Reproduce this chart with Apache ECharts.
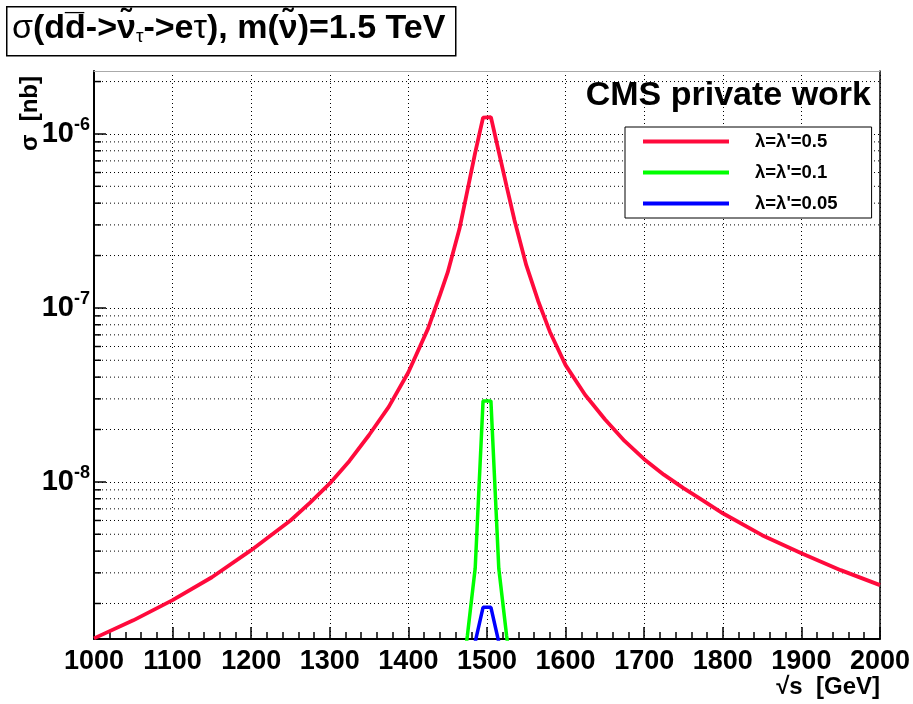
<!DOCTYPE html>
<html><head><meta charset="utf-8">
<script src="https://cdn.jsdelivr.net/npm/echarts@6/dist/echarts.min.js"></script>
<style>html,body{margin:0;padding:0;background:#fff}#c{width:913px;height:704px}</style>
</head><body><div id="c"></div>
<script>
// ---- data ----
const seriesNames = ["λ=λ'=0.5", "λ=λ'=0.1", "λ=λ'=0.05"];
const redX = [1000,1050,1100,1150,1200,1250,1275,1300,1325,1350,1375,1400,1425,1440,1450,1465,1475,1485,1495,
              1505,1515,1525,1535,1550,1565,1580,1600,1625,1650,1675,1700,1725,1750,1775,1800,1850,1900,1950,2000];
const redY = [1.26e-9,1.60e-9,2.09e-9,2.83e-9,4.05e-9,6.0e-9,7.6e-9,9.8e-9,1.32e-8,1.86e-8,2.7e-8,4.27e-8,7.6e-8,1.18e-7,1.6e-7,2.85e-7,4.7e-7,7.8e-7,1.24e-6,
              1.25e-6,7.9e-7,5.0e-7,3.19e-7,1.76e-7,1.1e-7,7.3e-8,4.69e-8,3.16e-8,2.29e-8,1.72e-8,1.35e-8,1.1e-8,9.2e-9,7.8e-9,6.6e-9,4.94e-9,3.89e-9,3.11e-9,2.55e-9];
const greenX = [1465,1475,1485,1495,1505,1515,1525,1535];
const greenY = [6e-10,1.3e-9,3.19e-9,2.92e-8,2.92e-8,3.19e-9,1.3e-9,6e-10];
const blueX = [1475,1485,1495,1505,1515,1525];
const blueY = [5e-10,1.2e-9,1.9e-9,1.9e-9,1.2e-9,5e-10];
const xMin = 1000, xMax = 2000, xStep = 100;
const yMin = 1.25e-9, yMax = 2.3e-6;
const yMinorTicks = [2e-9,3e-9,4e-9,5e-9,6e-9,7e-9,8e-9,9e-9,
  2e-8,3e-8,4e-8,5e-8,6e-8,7e-8,8e-8,9e-8,
  2e-7,3e-7,4e-7,5e-7,6e-7,7e-7,8e-7,9e-7,2e-6];
const colors = ['#ff0a3c', '#00ff00', '#0000ff'];

const FONT = '"Liberation Sans", Arial, Helvetica, sans-serif';
const zip = (xs, ys) => xs.map((x, i) => [x, ys[i]]);

const chart = echarts.init(document.getElementById('c'), null, {renderer: 'canvas'});
const dotted = {type: [1, 3], color: '#000', width: 1};

const option = {
  animation: false,
  backgroundColor: '#fff',
  grid: {left: 94, right: 32, top: 71, bottom: 65, show: false},
  xAxis: [{
    type: 'value', min: xMin, max: xMax, interval: xStep,
    axisLine: {show: true, lineStyle: {color: '#000', width: 2}},
    axisTick: {show: true, inside: true, length: 12, lineStyle: {color: '#000', width: 1.5}},
    minorTick: {show: true, splitNumber: 5, length: 7, lineStyle: {color: '#000', width: 1.5}},
    axisLabel: {color: '#000', fontFamily: FONT, fontWeight: 'bold', fontSize: 27, margin: 9,
      formatter: v => String(v)},
    splitLine: {show: true, lineStyle: dotted}
  }, {
    type: 'value', min: xMin, max: xMax, position: 'top',
    axisLine: {show: true, lineStyle: {color: '#aaa', width: 1}},
    axisTick: {show: false}, axisLabel: {show: false}, splitLine: {show: false}
  }],
  yAxis: [{
    type: 'log', logBase: 10, min: yMin, max: yMax,
    axisLine: {show: true, lineStyle: {color: '#000', width: 2}},
    axisTick: {show: true, inside: true, length: 12, lineStyle: {color: '#000', width: 1.5}},
    axisLabel: {
      showMinLabel: false, showMaxLabel: false, margin: 4,
      formatter: function (v) {
        const l = Math.log10(v), e = Math.round(l);
        if (Math.abs(l - e) > 1e-6) return '';
        return '{b|10}{s|' + e + '}';
      },
      rich: {
        b: {fontFamily: FONT, fontWeight: 'bold', fontSize: 29, color: '#000'},
        s: {fontFamily: FONT, fontWeight: 'bold', fontSize: 18, color: '#000', padding: [0, 0, 18, 0]}
      }
    },
    splitLine: {show: true, lineStyle: dotted}
  }, {
    type: 'log', logBase: 10, min: yMin, max: yMax, position: 'right',
    axisLine: {show: true, lineStyle: {color: '#000', width: 1.5}},
    axisTick: {show: false}, axisLabel: {show: false}, splitLine: {show: false}
  }],
  legend: {
    orient: 'vertical', left: 625, top: 127,
    padding: [5, 34, 5, 18], itemGap: 12, itemWidth: 86, itemHeight: 4,
    borderColor: '#000', borderWidth: 1, backgroundColor: '#fff',
    textStyle: {fontFamily: FONT, fontWeight: 'bold', fontSize: 18.5, color: '#000', padding: [0, 0, 0, 21]},
    data: seriesNames.map(n => ({name: n, icon: 'rect'}))
  },
  graphic: [
    {type: 'rect', left: 6, top: 6, shape: {width: 449, height: 49},
     style: {fill: '#fff', stroke: '#000', lineWidth: 1.5}, z: 100},
    {type: 'text', left: 12, top: 12, z: 101,
     style: {
       text: '{g|σ}{a|(dd\u0305->ν\u0303}{s|τ}{a|->e}{g|τ}{a|), m(ν\u0303)=1.5 TeV}',
       rich: {
         a: {fontFamily: FONT, fontWeight: 'bold', fontSize: 34, fill: '#000'},
         g: {fontFamily: FONT, fontWeight: 'normal', fontSize: 34, fill: '#000'},
         s: {fontFamily: FONT, fontWeight: 'normal', fontSize: 19, fill: '#000', padding: [16, 0, 0, 0]}
       }
     }},
    {type: 'text', right: 42, top: 79, z: 50,
     style: {text: 'CMS private work', fontFamily: FONT, fontWeight: 'bold', fontSize: 34, fill: '#000'}},
    {type: 'text', right: 33, top: 675, z: 50,
     style: {text: '√s  [GeV]', fontFamily: FONT, fontWeight: 'bold', fontSize: 24, fill: '#000'}},
    {type: 'text', x: 30, y: 76, rotation: Math.PI / 2, z: 50,
     style: {text: 'σ  [nb]', fontFamily: FONT, fontWeight: 'bold', fontSize: 24, fill: '#000', align: 'right', verticalAlign: 'middle'}}
  ],
  series: [
    {
      name: 'minor', type: 'custom', silent: true, z: 1, clip: false,
      data: yMinorTicks.map(v => [xMin, v]),
      renderItem: function (params, api) {
        const p = api.coord([api.value(0), api.value(1)]);
        const cs = params.coordSys;
        return {type: 'group', children: [
          {type: 'line', shape: {x1: cs.x, y1: p[1], x2: cs.x + cs.width, y2: p[1]},
           style: {stroke: '#000', lineWidth: 1, lineDash: [1, 3]}},
          {type: 'line', shape: {x1: cs.x, y1: p[1], x2: cs.x + 7, y2: p[1]},
           style: {stroke: '#000', lineWidth: 1.5}}
        ]};
      }
    },
    {name: seriesNames[0], type: 'line', data: zip(redX, redY), symbol: 'none', clip: true, z: 5,
     lineStyle: {color: colors[0], width: 3.8}, itemStyle: {color: colors[0]}},
    {name: seriesNames[1], type: 'line', data: zip(greenX, greenY), symbol: 'none', clip: true, z: 5,
     lineStyle: {color: colors[1], width: 3.5}, itemStyle: {color: colors[1]}},
    {name: seriesNames[2], type: 'line', data: zip(blueX, blueY), symbol: 'none', clip: true, z: 5,
     lineStyle: {color: colors[2], width: 3.5}, itemStyle: {color: colors[2]}}
  ]
};
chart.setOption(option);
</script></body></html>
